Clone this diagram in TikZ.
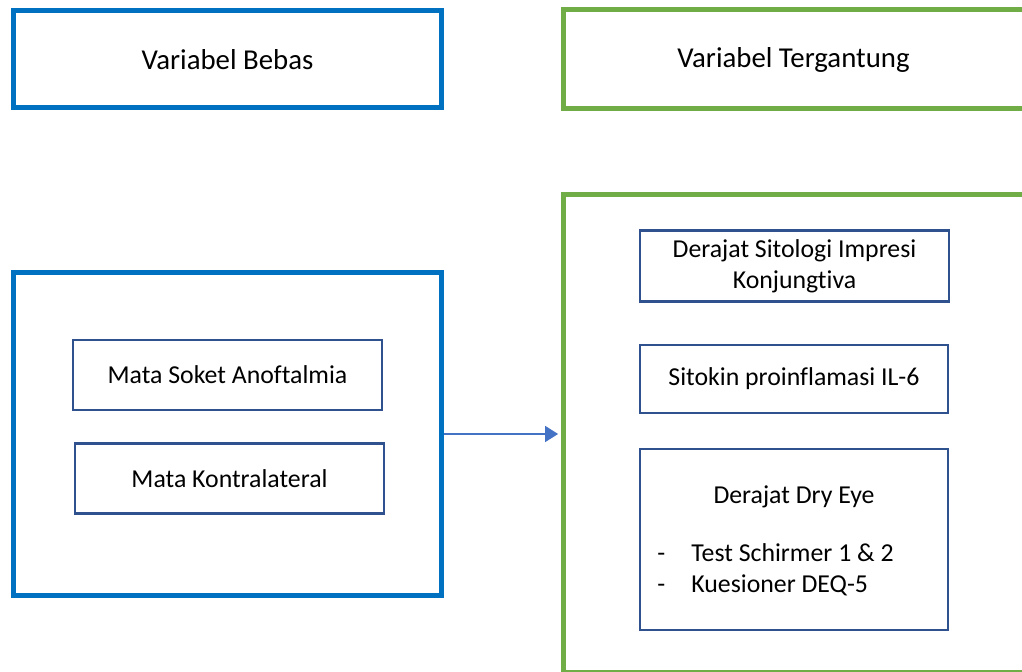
\documentclass[tikz,border=0pt]{standalone}
\usepackage{fontspec}
\setmainfont{Carlito}[Ligatures=NoCommon]
\usetikzlibrary{arrows.meta,positioning}
\definecolor{HeadBlue}{RGB}{0,112,192}
\definecolor{HeadGreen}{RGB}{112,173,71}
\definecolor{ItemBlue}{RGB}{47,82,143}
\definecolor{LinkBlue}{RGB}{68,114,196}

\begin{document}
\begin{tikzpicture}[
  x=0.5pt, y=-0.5pt,
  header/.style={draw=#1, line width=2.5pt, inner sep=0pt,
    minimum width=214pt, minimum height=48.5pt, font=\fontsize{14.4}{17}\selectfont},
  group/.style={draw=#1, line width=2.5pt, inner sep=0pt},
  item/.style={draw=ItemBlue, line width=1.1pt, inner sep=0pt, align=center,
    minimum width=154.5pt, minimum height=35pt, font=\fontsize{12.9}{16}\selectfont},
  itemtext/.style={inner sep=0pt, font=\fontsize{12.9}{15.5}\selectfont},
  arrow/.style={-{Triangle[length=6.5pt, width=8pt]}, line width=0.7pt, draw=LinkBlue, shorten >=1.2pt}
]
\clip (0,0) rectangle (1022,672);

% column heads
\node[header=HeadBlue] (bebas) at (227.5,59.5) {Variabel Bebas};
\node[header=HeadGreen, minimum width=230.5pt, minimum height=49.5pt] (tergantung) at (793.5,59.5) {Variabel Tergantung};

% group frames
\node[group=HeadBlue, minimum width=214pt, minimum height=161.5pt] (bebasgrp) at (227.5,434) {};
\node[group=HeadGreen, minimum width=233.5pt, minimum height=239pt] (tergantunggrp) at (796.5,434) {};

% independent variables
\node[item] (soket) at (227.5,375) {Mata Soket Anoftalmia};
\node[item] (kontra) at (229.5,478.5) {Mata Kontralateral};

% dependent variables
\node[item, minimum height=35.5pt] (sitologi) at (794.5,266) {\raisebox{-1.5pt}{Derajat Sitologi Impresi}\\[-0.5pt]\raisebox{-1.5pt}{Konjungtiva}};
\node[item, minimum width=154pt, minimum height=34pt] (sitokin) at (794,379) {Sitokin proinflamasi IL-6};
\node[item, minimum width=154pt, minimum height=90.5pt] (dryeye) at (794,539.5) {};
\node[itemtext] (dryeyetitle) at (794,497) {Derajat Dry Eye};
\node[itemtext, anchor=west] (dryeyelist) at (657,570.5) {%
  \begin{tabular}{@{}p{17pt}@{}l@{}}
  -&Test Schirmer 1 \& 2\\
  -&Kuesioner DEQ-5
  \end{tabular}};

\draw[arrow] (bebasgrp) -- (tergantunggrp);
\end{tikzpicture}
\end{document}
